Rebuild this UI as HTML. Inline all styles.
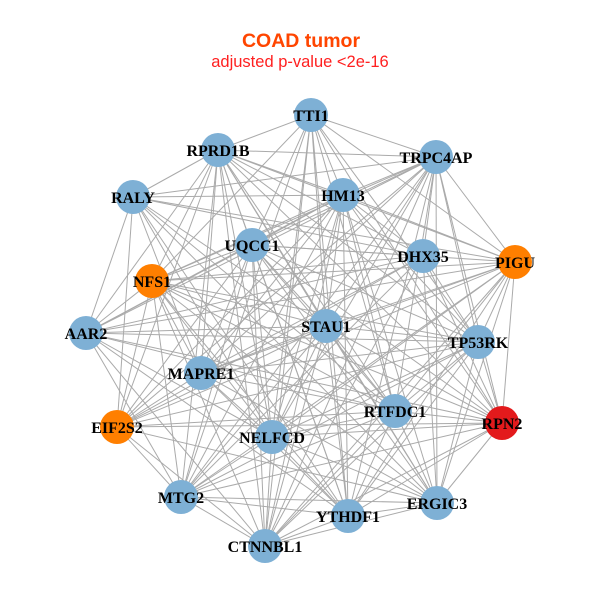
<!DOCTYPE html>
<html><head><meta charset="utf-8"><style>body{margin:0;background:#fff}svg{display:block}</style></head>
<body>
<svg id="s" width="600" height="600" xmlns="http://www.w3.org/2000/svg">
<rect width="600" height="600" fill="#fff"/>
<text x="301" y="47" text-anchor="middle" font-family="Liberation Sans, sans-serif" font-weight="bold" font-size="19.5" fill="#ff4500">COAD tumor</text>
<text x="300" y="67" text-anchor="middle" font-family="Liberation Sans, sans-serif" font-size="16.5" fill="#ff2020">adjusted p-value &lt;2e-16</text>
<g id="edges" stroke="#aaaaaa" stroke-width="1"></g>
<g id="nodes"></g>
<g font-family="Liberation Serif, serif" font-weight="bold" font-size="16" text-anchor="middle" fill="#000">
<text x="311" y="121">TTI1</text>
<text x="218" y="156">RPRD1B</text>
<text x="436" y="163">TRPC4AP</text>
<text x="133" y="203">RALY</text>
<text x="343" y="201">HM13</text>
<text x="252" y="251">UQCC1</text>
<text x="423" y="262">DHX35</text>
<text x="515" y="268">PIGU</text>
<text x="152" y="287">NFS1</text>
<text x="86" y="339">AAR2</text>
<text x="326" y="332">STAU1</text>
<text x="478" y="348">TP53RK</text>
<text x="201" y="379">MAPRE1</text>
<text x="395" y="417">RTFDC1</text>
<text x="502" y="429">RPN2</text>
<text x="117" y="433">EIF2S2</text>
<text x="272" y="443">NELFCD</text>
<text x="181" y="503">MTG2</text>
<text x="437" y="509">ERGIC3</text>
<text x="348" y="522">YTHDF1</text>
<text x="265" y="552">CTNNBL1</text>
</g>
</svg>
<script>
var N=[[311,115,0],[218,150,0],[436,157,0],[133,197,0],[343,195,0],[252,245,0],[423,256,0],[515,262,1],[152,281,1],[86,333,0],[326,326,0],[478,342,0],[201,373,0],[395,411,0],[502,423,2],[117,427,1],[272,437,0],[181,497,0],[437,503,0],[348,516,0],[265,546,0]];
var C=["#7eb0d5","#ff7f00","#e31a1c"];
var ns="http://www.w3.org/2000/svg",e=document.getElementById("edges"),g=document.getElementById("nodes");
for(var i=0;i<N.length;i++)for(var j=i+1;j<N.length;j++){
 if((i*7+j*3)%9==0)continue;
 var l=document.createElementNS(ns,"line");
 l.setAttribute("x1",N[i][0]);l.setAttribute("y1",N[i][1]);l.setAttribute("x2",N[j][0]);l.setAttribute("y2",N[j][1]);e.appendChild(l);}
N.forEach(function(n){var c=document.createElementNS(ns,"circle");c.setAttribute("cx",n[0]);c.setAttribute("cy",n[1]);c.setAttribute("r",17);c.setAttribute("fill",C[n[2]]);g.appendChild(c);});
</script>
</body></html>
